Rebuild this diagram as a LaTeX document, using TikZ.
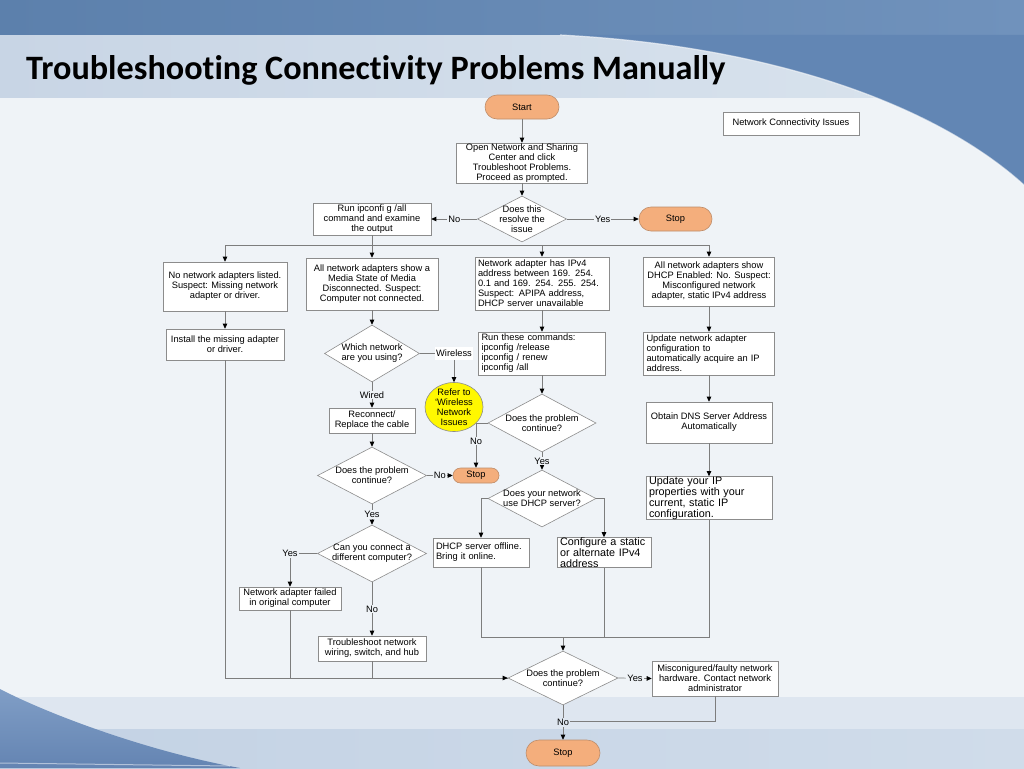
\documentclass[tikz,border=0pt]{standalone}
\usepackage{fontspec}
\setmainfont{Liberation Sans}
\newfontfamily\titlefont[Ligatures=NoCommon]{Carlito}
\usetikzlibrary{shapes.geometric,arrows.meta,calc}
\definecolor{bgc}{RGB}{239,243,247}
\definecolor{titlel}{RGB}{200,213,229}
\definecolor{titler}{RGB}{218,228,238}
\definecolor{topl}{RGB}{92,128,172}
\definecolor{topr}{RGB}{112,146,188}
\definecolor{swc}{RGB}{98,134,180}
\definecolor{band1}{RGB}{222,230,240}
\definecolor{band2l}{RGB}{195,210,228}
\definecolor{band2r}{RGB}{208,220,234}
\definecolor{swl}{RGB}{128,158,198}
\definecolor{swd}{RGB}{100,132,178}
\definecolor{linec}{RGB}{125,125,125}
\definecolor{boxc}{RGB}{140,140,140}
\definecolor{termc}{RGB}{244,174,124}
\definecolor{termb}{RGB}{190,140,105}
\definecolor{yelc}{RGB}{255,248,0}
\newcommand\dfs{\fontsize{9.3}{10}\selectfont}
\newcommand\bfsz{\fontsize{10.8}{11}\selectfont}
\tikzset{
 ln/.style={draw=linec, line width=0.7pt},
 arr/.style={ln, -{Triangle[length=5pt,width=4.5pt,color=black]}},
 box/.style={draw=boxc, fill=white, line width=0.6pt, inner xsep=2pt, inner ysep=0pt, align=center, font=\dfs},
 lbox/.style={box, align=left, inner xsep=3pt},
 dec/.style={diamond, draw=boxc, fill=white, line width=0.6pt, inner sep=0pt},
 term/.style={draw=termb, fill=termc, line width=0.6pt, inner sep=0pt, font=\dfs},
 lbl/.style={fill=bgc, inner sep=1pt, font=\dfs},
 dtext/.style={align=center, font=\dfs, inner sep=0pt},
}
\begin{document}
\begin{tikzpicture}[x=1pt,y=-1pt]
\useasboundingbox (0,0) rectangle (1024,768);
% ---------- background ----------
\fill[bgc] (0,0) rectangle (1024,768);
\shade[left color=titlel, right color=titler] (0,35) rectangle (1024,97);
\shade[left color=topl, right color=topr] (0,0) rectangle (1024,35);
\fill[swc] (560,35) .. controls (760,45) and (930,100) .. (1024,185) -- (1024,35) -- cycle;
\draw[white, opacity=0.6, line width=1.2pt] (560,35) .. controls (760,45) and (930,100) .. (1024,185);
\fill[band1] (0,697) rectangle (1024,729);
\shade[left color=band2l, right color=band2r] (0,729) rectangle (1024,768);
\shade[top color=swl, bottom color=swd] (0,689) .. controls (50,715) and (150,752) .. (240,768) -- (0,768) -- cycle;
\draw[white, opacity=0.5, line width=1pt] (0,763) -- (230,766);
% ---------- title ----------
\node[anchor=base west, inner sep=0pt, font={\titlefont\fontsize{34.2}{40}\selectfont\bfseries}] (title) at (26,79) {Troubleshooting Connectivity Problems Manually};
% ---------- nodes ----------
\node[box, minimum width=136pt, minimum height=23pt] (nci) at (791,123.5) {Network Connectivity Issues};
\node[term, minimum width=74pt, minimum height=24pt, rounded corners=12pt] (start) at (522,107) {Start};
\node[box, minimum width=131pt, minimum height=40pt] (open) at (522,163) {Open Network and Sharing\\Center and click\\Troubleshoot Problems.\\Proceed as prompted.};
\node[dec, minimum width=89pt, minimum height=46pt, label={[dtext]center:Does this\\resolve the\\issue}] (d1) at (522,219) {};
\node[term, minimum width=73pt, minimum height=24pt, rounded corners=12pt] (stop1) at (675.5,219) {Stop};
\node[box, minimum width=118pt, minimum height=32pt] (run) at (372,219) {Run ipconfi g /all\\command and examine\\the output};
\node[box, minimum width=124pt, minimum height=49pt] (nonet) at (225,286.5) {No network adapters listed.\\Suspect: Missing network\\adapter or driver.};
\node[box, minimum width=132pt, minimum height=52pt] (media) at (372,284) {All network adapters show a\\Media State of Media\\Disconnected. Suspect:\\Computer not connected.};
\node[lbox, text width=128pt, minimum height=53pt] (ipv4) at (542,283.5) {Network adapter has IPv4\\address between 169. 254.\\0.1 and 169. 254. 255. 254.\\Suspect: APIPA address,\\DHCP server unavailable};
\node[box, minimum width=131pt, minimum height=49pt] (dhcpen) at (709,281.5) {All network adapters show\\DHCP Enabled: No. Suspect:\\Misconfigured network\\adapter, static IPv4 address};
\node[box, minimum width=118pt, minimum height=31pt] (install) at (225,344.5) {Install the missing adapter\\or driver.};
\node[dec, minimum width=95pt, minimum height=57pt, label={[dtext]center:Which network\\are you using?}] (d3) at (372,353.5) {};
\node[lbox, text width=121pt, minimum height=43pt] (runcmd) at (542,353.5) {Run these commands:\\ipconfig /release\\ipconfig / renew\\ipconfig /all};
\node[lbox, text width=125pt, minimum height=43pt] (updna) at (709,353.5) {Update network adapter\\configuration to\\automatically acquire an IP\\address.};
\node[ellipse, draw=boxc, fill=yelc, line width=0.6pt, inner sep=0pt, minimum width=58pt, minimum height=49pt, label={[dtext]center:Refer to\\‘Wireless\\Network\\Issues}] (circ) at (454,407) {};
\node[box, minimum width=86pt, minimum height=25pt] (reconnect) at (372,420.5) {Reconnect/\\Replace the cable};
\node[dec, minimum width=108pt, minimum height=58pt, label={[dtext]center:Does the problem\\continue?}] (d2) at (542,423) {};
\node[box, minimum width=126pt, minimum height=41pt] (dns) at (709,422.5) {Obtain DNS Server Address\\Automatically};
\node[dec, minimum width=109pt, minimum height=57pt, label={[dtext]center:Does the problem\\continue?}] (d4) at (372,475.5) {};
\node[term, minimum width=46pt, minimum height=15pt, rounded corners=7.5pt] (stop2) at (476,475.5) {Stop};
\node[dec, minimum width=108pt, minimum height=57pt, label={[dtext]center:Does your network\\use DHCP server?}] (d6) at (542,498.5) {};
\node[lbox, font=\bfsz, text width=120pt, minimum height=42pt] (updip) at (709,498) {Update your IP\\properties with your\\current, static IP\\configuration.};
\node[dec, minimum width=109pt, minimum height=57pt, label={[dtext]center:Can you connect a\\different computer?}] (d5) at (372,553.5) {};
\node[lbox, text width=90pt, minimum height=29pt] (dhcpoff) at (481,552.5) {DHCP server offline.\\Bring it online.};
\node[lbox, font=\bfsz, text width=88pt, minimum height=29pt] (config) at (604,552.5) {Configure a static\\or alternate IPv4\\address};
\node[box, minimum width=102pt, minimum height=23pt] (failed) at (290,598.5) {Network adapter failed\\in original computer};
\node[box, minimum width=108pt, minimum height=25pt] (trouble) at (372,648.5) {Troubleshoot network\\wiring, switch, and hub};
\node[dec, minimum width=110pt, minimum height=54pt, label={[dtext]center:Does the problem\\continue?}] (d7) at (563,678) {};
\node[box, minimum width=126pt, minimum height=35pt] (misc) at (715,678.5) {Misconigured/faulty network\\hardware. Contact network\\administrator};
\node[term, minimum width=74pt, minimum height=26pt, rounded corners=13pt] (stop3) at (563,753) {Stop};
% ---------- connectors ----------
\draw[arr] (start.south) -- (open.north);
\draw[arr] (open.south) -- (d1.north);
\draw[arr] (d1.west) -- node[lbl] (lno1) {No} (run.east);
\draw[arr] (d1.east) -- node[lbl] (lyes1) {Yes} (stop1.west);
\coordinate (bus) at (372,245);
\draw[ln] (run.south) -- (bus);
\draw[arr] (bus) -| (nonet.north);
\draw[arr] (bus) -- (media.north);
\draw[arr] (bus) -| (ipv4.north);
\draw[arr] (bus) -| (dhcpen.north);
\draw[arr] (nonet.south) -- (install.north);
\draw[arr] (media.south) -- (d3.north);
\draw[arr] (ipv4.south) -- (runcmd.north);
\draw[arr] (dhcpen.south) -- (updna.north);
\draw[arr] (d3.east) -| node[lbl, fill=white, pos=0.5, inner ysep=3pt] (lwl) {Wireless} (circ.north);
\draw[arr] (d3.south) -- node[lbl] (lwd) {Wired} (reconnect.north);
\draw[arr] (runcmd.south) -- (d2.north);
\draw[arr] (updna.south) -- (dns.north);
\draw[arr] (reconnect.south) -- (d4.north);
\draw[arr] (d2.west) -| node[lbl, pos=0.7] (lno2) {No} (stop2.north);
\draw[arr] (d2.south) -- node[lbl] (lyes2) {Yes} (d6.north);
\draw[arr] (dns.south) -- (updip.north);
\draw[arr] (d4.east) -- node[lbl] (lno3) {No} (stop2.west);
\draw[arr] (d4.south) -- node[lbl] (lyes3) {Yes} (d5.north);
\draw[arr] (d5.west) -| node[lbl, pos=0.5] (lyes4) {Yes} (failed.north);
\draw[arr] (d5.south) -- node[lbl] (lno4) {No} (trouble.north);
\draw[arr] (d6.west) -| (dhcpoff.north);
\draw[arr] (d6.east) -| (config.north);
\coordinate (mrg) at (563,637);
\draw[ln] (dhcpoff.south) |- (mrg);
\draw[ln] (config.south) |- (mrg);
\draw[ln] (updip.south) |- (mrg);
\draw[arr] (mrg) -- (d7.north);
\draw[ln] (failed.south) |- (d7.west);
\draw[ln] (trouble.south) |- (d7.west);
\draw[arr] (install.south) |- (d7.west);
\draw[arr] (d7.east) -- node[lbl] (lyes5) {Yes} (misc.west);
\coordinate (jn) at (563,721);
\draw[ln] (misc.south) |- (jn);
\draw[arr] (d7.south) -- node[lbl, fill=band1] (lno5) {No} (stop3.north);
\end{tikzpicture}
\end{document}
